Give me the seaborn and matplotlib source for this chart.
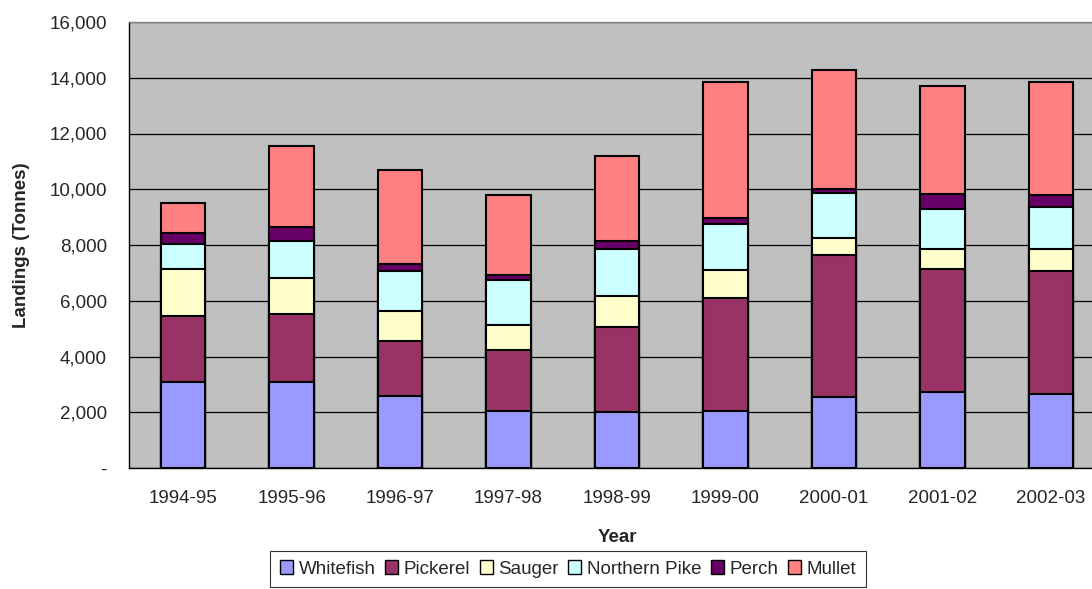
import pandas as pd
import matplotlib.pyplot as plt
import seaborn as sns
from matplotlib.patches import Patch
from matplotlib.ticker import FuncFormatter, FixedLocator

# landings by species (tonnes)
years = ["1994-95", "1995-96", "1996-97", "1997-98", "1998-99",
         "1999-00", "2000-01", "2001-02", "2002-03"]
whitefish = [3100, 3100, 2590, 2050, 2000, 2060, 2540, 2730, 2650]
pickerel = [2350, 2420, 1950, 2180, 3070, 4030, 5110, 4400, 4420]
sauger = [1690, 1300, 1100, 900, 1100, 1000, 590, 710, 770]
northern_pike = [910, 1340, 1430, 1600, 1700, 1680, 1620, 1440, 1520]
perch = [390, 470, 260, 210, 270, 190, 140, 540, 440]
mullet = [1060, 2930, 3370, 2870, 3040, 4880, 4290, 3890, 4040]

species = ["Whitefish", "Pickerel", "Sauger", "Northern Pike", "Perch", "Mullet"]
colors = ["#9999FF", "#993366", "#FFFFCC", "#CCFFFF", "#660066", "#FF8080"]

df = pd.DataFrame({"Year": years, "Whitefish": whitefish, "Pickerel": pickerel,
                   "Sauger": sauger, "Northern Pike": northern_pike,
                   "Perch": perch, "Mullet": mullet})
cum = df[species].cumsum(axis=1)
cum["Year"] = df["Year"]

sns.set_style("white")
plt.rcParams['font.family'] = ['Liberation Sans', 'DejaVu Sans']
fs = 13.5

fig = plt.figure(figsize=(10.92, 5.89), dpi=100)
# plot area runs past the right edge, as in the original
ax = fig.add_axes([129 / 1092, 121 / 589, 976 / 1092, 446 / 589])
ax.set_facecolor("#C0C0C0")

# stacked bars: draw the tallest cumulative total first
for sp, c in zip(species[::-1], colors[::-1]):
    sns.barplot(data=cum, x="Year", y=sp, color=c, saturation=1, width=0.41,
                edgecolor="black", linewidth=1.5, ax=ax, zorder=3)

ax.set_ylim(0, 16000)
ax.set_xlim(-0.5, 8.5)
ax.set_yticks(range(0, 16001, 2000))
ax.yaxis.set_major_formatter(FuncFormatter(lambda v, p: "-" if v == 0 else f"{int(v):,}"))
ax.grid(axis="y", color="black", linewidth=0.9, zorder=0)
ax.set_axisbelow(True)

ax.xaxis.set_minor_locator(FixedLocator([i - 0.5 for i in range(10)]))
ax.tick_params(axis="x", which="major", length=0, pad=16, labelsize=fs)
ax.tick_params(axis="x", which="minor", length=5, width=0.9, color="black", direction="out")
ax.tick_params(axis="y", length=6, width=0.9, color="black", direction="out", labelsize=fs, pad=10)

for s in ["top", "right"]:
    ax.spines[s].set_color("#808080")
    ax.spines[s].set_linewidth(1)
for s in ["left", "bottom"]:
    ax.spines[s].set_color("black")
    ax.spines[s].set_linewidth(1)

ax.set_ylabel("Landings (Tonnes)", fontsize=fs, fontweight="bold", labelpad=14)
ax.set_xlabel("Year", fontsize=fs, fontweight="bold", labelpad=16)

handles = [Patch(facecolor=c, edgecolor="black", linewidth=1) for c in colors]
leg = fig.legend(handles, species, loc="upper center", bbox_to_anchor=(568 / 1092, 38 / 589),
                 ncol=6, frameon=True, fancybox=False, edgecolor="black", fontsize=fs,
                 handlelength=0.7, handleheight=0.7, handletextpad=0.3, columnspacing=0.5,
                 borderpad=0.5, borderaxespad=0)
leg.get_frame().set_linewidth(0.8)

fig.savefig("out.png", dpi=100)
